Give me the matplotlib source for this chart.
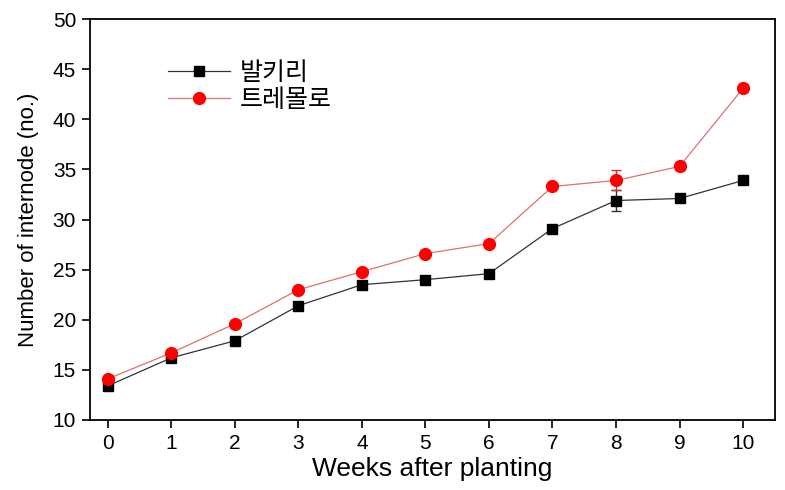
import matplotlib
matplotlib.use("Agg")
import matplotlib.pyplot as plt
from matplotlib.lines import Line2D

weeks = [0, 1, 2, 3, 4, 5, 6, 7, 8, 9, 10]
balkiri = [13.4, 16.2, 17.9, 21.4, 23.5, 24.0, 24.6, 29.1, 31.9, 32.1, 33.9]
balkiri_err = [0.2, 0.2, 0.2, 0.2, 0.2, 0.2, 0.2, 0.2, 1.0, 0.3, 0.2]
tremolo = [14.1, 16.7, 19.6, 23.0, 24.8, 26.6, 27.6, 33.3, 33.9, 35.3, 43.1]
tremolo_err = [0.2, 0.2, 0.2, 0.2, 0.2, 0.3, 0.2, 0.2, 1.0, 0.4, 0.2]
series_names = ["발키리", "트레몰로"]

plt.rcParams['font.family'] = ['Liberation Sans', 'Noto Sans CJK KR', 'DejaVu Sans']

fig = plt.figure(figsize=(7.85, 4.9), dpi=100)
ax = fig.add_axes([0.1146, 0.1429, 0.8725, 0.8181])

black_line = '#333333'
red_line = '#e07070'
ax.errorbar(weeks, balkiri, yerr=balkiri_err, color=black_line, lw=0.9,
            marker='s', ms=7.5, mfc='black', mec='black', ecolor='#333333',
            elinewidth=1, capsize=3.5, zorder=3)
ax.errorbar(weeks, tremolo, yerr=tremolo_err, color=red_line, lw=0.9,
            marker='o', ms=8.5, mfc='red', mec='red', ecolor='#cc3333',
            elinewidth=1, capsize=3.5, zorder=4)

ax.set_xlim(-0.28, 10.5)
ax.set_ylim(10, 50)
ax.set_xticks(weeks)
ax.set_yticks(range(10, 51, 5))
ax.tick_params(direction='out', length=6, width=1.2, labelsize=15, pad=4)
for s in ax.spines.values():
    s.set_linewidth(1.3)

ax.set_xlabel("Weeks after planting", fontsize=19, labelpad=3)
ax.set_ylabel("Number of internode (no.)", fontsize=16, labelpad=10)

handles = [
    Line2D([], [], color=black_line, lw=0.9, marker='s', ms=7.5, mfc='black', mec='black'),
    Line2D([], [], color=red_line, lw=0.9, marker='o', ms=8.5, mfc='red', mec='red'),
]
ax.legend(handles, series_names, loc='upper left', bbox_to_anchor=(0.088, 0.942), frameon=False,
          handlelength=2.5, handletextpad=0.4, labelspacing=0.05, borderpad=0.2,
          prop={'family': ['Noto Sans CJK KR', 'DejaVu Sans'], 'size': 18})

fig.savefig("out.png", dpi=100)
